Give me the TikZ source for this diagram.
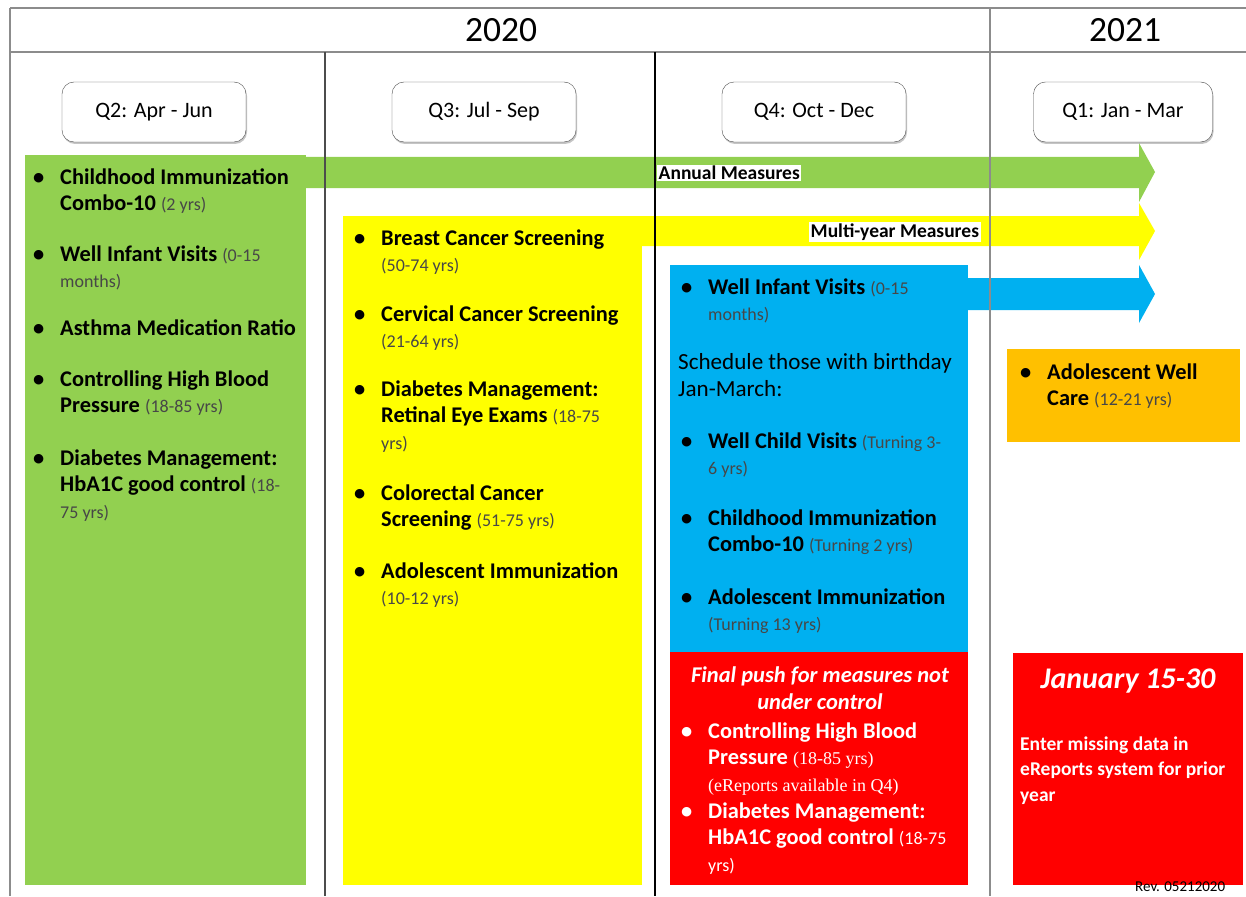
\documentclass[tikz,border=0pt]{standalone}
\usepackage{fontspec}
\setmainfont{Carlito}
\newfontfamily\timesf{Liberation Serif}
\usetikzlibrary{shadows}
\definecolor{cgreen}{HTML}{92D050}
\definecolor{cyellow}{HTML}{FFFF00}
\definecolor{cblue}{HTML}{00B0F0}
\definecolor{cred}{HTML}{FF0000}
\definecolor{corange}{HTML}{FFC000}
\definecolor{frame}{HTML}{8C8C8C}
\newcommand\sm[1]{{\fontsize{18}{20}\selectfont\mdseries\color{black!72}#1}}
\newcommand\smw[1]{{\fontsize{18}{20}\selectfont\mdseries #1}}
\newcommand\tsm[1]{{\timesf\fontsize{18}{20}\selectfont\mdseries #1}}
\newcommand\blist[1]{\begin{tabular}[t]{@{}p{27pt}@{}l@{}}#1\end{tabular}}
\tikzset{
  x=1pt, y=-1pt,
  qbox/.style={draw=black!70, fill=white, rounded corners=12pt, minimum width=184pt, minimum height=60pt,
    drop shadow={shadow xshift=1pt, shadow yshift=-2pt, fill=black!45}, font=\fontsize{22}{26}\selectfont},
  year/.style={font=\fontsize{35.5}{40}\selectfont, inner sep=0},
  itemtxt/.style={anchor=base west, inner sep=0, font=\fontsize{22.4}{26.5}\selectfont\bfseries},
  whitetxt/.style={itemtxt, text=white},
  blk/.style={inner sep=0},
  armlabel/.style={anchor=west, fill=white, inner sep=1.5pt, font=\fontsize{19.5}{22}\selectfont\bfseries},
  gridline/.style={draw=frame, line width=1.2pt},
}
\begin{document}
\begin{tikzpicture}
\useasboundingbox (0,0) rectangle (1246,896);
\fill[white] (0,0) rectangle (1246,896);

% colour blocks
\fill[cgreen] (25,155) rectangle (306,885);
\fill[cyellow] (343,216) rectangle (642,885);
\fill[cblue] (670,265) rectangle (968,652);
\fill[cred] (670,652) rectangle (968,885);
\fill[corange] (1007,349) rectangle (1240,442);
\fill[cred] (1013,653) rectangle (1243,885);

% arrows
\fill[cgreen] (300,157) -- (1139,157) -- (1139,143) -- (1155,172) -- (1139,202) -- (1139,188) -- (300,188) -- cycle;
\fill[cyellow] (636,216) -- (1139,216) -- (1139,203) -- (1155,231) -- (1139,260) -- (1139,246) -- (636,246) -- cycle;
\fill[cblue] (962,278) -- (1139,278) -- (1139,265) -- (1155,294) -- (1139,323) -- (1139,310) -- (962,310) -- cycle;

\node[armlabel] (annual) at (657,173) {Annual Measures};
\node[armlabel] (multi) at (809,232) {Multi-year Measures};

% frame
\draw[gridline] (10,8) -- (1246,8);
\draw[gridline] (10,52) -- (1246,52);
\draw[gridline] (10,8) -- (10,896);
\draw[gridline] (990,8) -- (990,896);
\draw[draw=black!70, line width=1.2pt] (325,52) -- (325,896);
\draw[draw=black, line width=1.2pt] (655,52) -- (655,896);

\node[year] (y2020) at (501,30) {2020};
\node[year] (y2021) at (1125,30) {2021};

\node[qbox] (q2) at (154,112) {Q2: Apr - Jun};
\node[qbox] (q3) at (484,112) {Q3: Jul - Sep};
\node[qbox] (q4) at (814,112) {Q4: Oct - Dec};
\node[qbox, minimum width=179pt] (q1) at (1123,112) {Q1: Jan - Mar};

% green column
\node[itemtxt] (g1) at (33,184) {\blist{\textbullet & Childhood Immunization\\ & Combo-10 \sm{(2 yrs)}}};
\node[itemtxt] (g2) at (33,261) {\blist{\textbullet & Well Infant Visits \sm{(0-15}\\ & \sm{months)}}};
\node[itemtxt] (g3) at (33,335) {\blist{\textbullet & Asthma Medication Ratio}};
\node[itemtxt] (g4) at (33,386) {\blist{\textbullet & Controlling High Blood\\ & Pressure \sm{(18-85 yrs)}}};
\node[itemtxt] (g5) at (33,465) {\blist{\textbullet & Diabetes Management:\\ & HbA1C good control \sm{(18-}\\ & \sm{75 yrs)}}};

% yellow column
\node[itemtxt] (ya) at (354,245) {\blist{\textbullet & Breast Cancer Screening\\ & \sm{(50-74 yrs)}}};
\node[itemtxt] (yb) at (354,321) {\blist{\textbullet & Cervical Cancer Screening\\ & \sm{(21-64 yrs)}}};
\node[itemtxt] (yc) at (354,396) {\blist{\textbullet & Diabetes Management:\\ & Retinal Eye Exams \sm{(18-75}\\ & \sm{yrs)}}};
\node[itemtxt] (yd) at (354,500) {\blist{\textbullet & Colorectal Cancer\\ & Screening \sm{(51-75 yrs)}}};
\node[itemtxt] (ye) at (354,578) {\blist{\textbullet & Adolescent Immunization\\ & \sm{(10-12 yrs)}}};

% blue column
\node[itemtxt] (ba) at (681,294) {\blist{\textbullet & Well Infant Visits \sm{(0-15}\\ & \sm{months)}}};
\node[itemtxt, font=\fontsize{23.1}{27}\selectfont] (sched) at (678,369) {\begin{tabular}[t]{@{}l@{}}Schedule those with birthday\\ Jan-March:\end{tabular}};
\node[itemtxt] (bb) at (681,448) {\blist{\textbullet & Well Child Visits \sm{(Turning 3-}\\ & \sm{6 yrs)}}};
\node[itemtxt] (bc) at (681,525) {\blist{\textbullet & Childhood Immunization\\ & Combo-10 \sm{(Turning 2 yrs)}}};
\node[itemtxt] (bd) at (681,604) {\blist{\textbullet & Adolescent Immunization\\ & \sm{(Turning 13 yrs)}}};

% red Q4
\node[whitetxt, anchor=base, font=\fontsize{22.5}{27}\selectfont\bfseries\itshape] (push) at (820,682) {\begin{tabular}[t]{@{}c@{}}Final push for measures not\\ under control\end{tabular}};
\node[whitetxt] (ra) at (681,738) {\blist{\textbullet & Controlling High Blood\\ & Pressure \tsm{(18-85 yrs)}\\ & \tsm{(eReports available in Q4)}}};
\node[whitetxt] (rb) at (681,818) {\blist{\textbullet & Diabetes Management:\\ & HbA1C good control \smw{(18-75}\\ & \smw{yrs)}}};

% orange
\node[itemtxt] (oa) at (1020,379) {\blist{\textbullet & Adolescent Well\\ & Care \sm{(12-21 yrs)}}};

% red Q1
\node[whitetxt, anchor=base, font=\fontsize{30}{32}\selectfont\bfseries\itshape] (jan) at (1128,688) {January 15-30};
\node[whitetxt, font=\fontsize{19.5}{25.5}\selectfont\bfseries] (enter) at (1020,750) {\begin{tabular}[t]{@{}l@{}}Enter missing data in\\ eReports system for prior\\ year\end{tabular}};

\node[blk, anchor=base west, font=\fontsize{15}{17}\selectfont] (rev) at (1135,891) {Rev. 05212020};
\end{tikzpicture}
\end{document}
